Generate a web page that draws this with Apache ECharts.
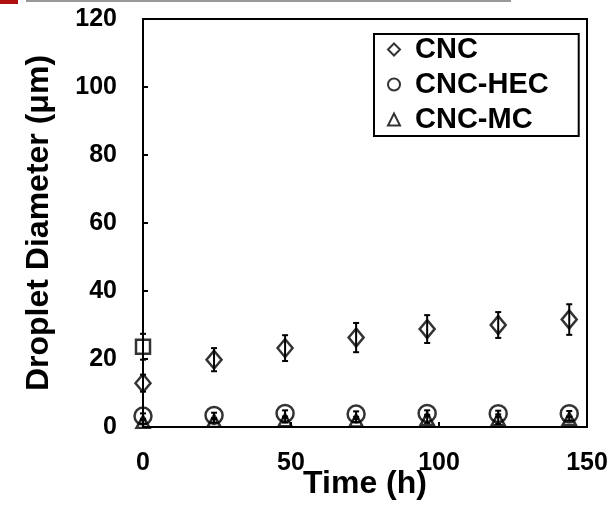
<!DOCTYPE html>
<html>
<head>
<meta charset="utf-8">
<script src="https://cdn.jsdelivr.net/npm/echarts@6/dist/echarts.min.js"></script>
<style>
    html, body { margin: 0; padding: 0; background: #fff; }
    #chart { width: 612px; height: 507px; }
</style>
</head>
<body>
<div id="chart"></div>
<script>
    // time points (h)
    const times = [0, 24, 48, 72, 96, 120, 144];
    // CNC
    const cncMean = [12.9, 19.8, 23.2, 26.3, 28.8, 30.0, 31.6];
    const cncErr = [2.5, 3.4, 3.8, 4.3, 4.1, 3.8, 4.5];
    // CNC-HEC
    const hecMean = [3.2, 3.4, 4.0, 3.8, 4.0, 3.9, 3.9];
    const hecErr = [0.8, 0.8, 0.9, 0.8, 0.9, 0.9, 0.8];
    // CNC-MC
    const mcMean = [1.5, 1.8, 2.0, 1.9, 2.4, 2.3, 2.4];
    const mcErr = [0.5, 0.5, 0.7, 0.5, 1.2, 1.4, 0.5];
    // extra point at t=0 (square, not in legend)
    const sqTime = [0];
    const sqMean = [23.6];
    const sqErr = [3.8];

    const yTicks = [0, 20, 40, 60, 80, 100, 120];
    const xTicks = [0, 50, 100, 150];

    const chart = echarts.init(document.getElementById("chart"));
    const font = "Arial, 'Liberation Sans', sans-serif";

    function pairs(xs, ys) {
        return xs.map((x, i) => [x, ys[i]]);
    }
    function errData(xs, ys, es) {
        return xs.map((x, i) => [x, ys[i] - es[i], ys[i] + es[i]]);
    }
    function errSeries(data) {
        return {
            type: "custom",
            data: data,
            silent: true,
            z: 1,
            renderItem: function (params, api) {
                const lo = api.coord([api.value(0), api.value(1)]);
                const hi = api.coord([api.value(0), api.value(2)]);
                const w = 3;
                const st = { stroke: "#000", lineWidth: 2 };
                return {
                    type: "group",
                    children: [
                        { type: "line", shape: { x1: lo[0], y1: lo[1], x2: hi[0], y2: hi[1] }, style: st },
                        { type: "line", shape: { x1: lo[0] - w, y1: lo[1], x2: lo[0] + w, y2: lo[1] }, style: st },
                        { type: "line", shape: { x1: hi[0] - w, y1: hi[1], x2: hi[0] + w, y2: hi[1] }, style: st }
                    ]
                };
            }
        };
    }
    const markerStyle = { color: "transparent", borderColor: "#000", borderWidth: 2.5 };

    const option = {
        animation: false,
        // remnant of the neighbouring panel at the top edge
        graphic: [
            { type: "rect", left: 0, top: 0, shape: { width: 18, height: 4 }, style: { fill: "#b01010" } },
            { type: "rect", left: 26, top: 0, shape: { width: 485, height: 2 }, style: { fill: "#999" } }
        ],
        grid: {
            left: 143, right: 25, top: 19, bottom: 80,
            outerBoundsMode: "none",
            show: true, borderColor: "#000", borderWidth: 2
        },
        legend: {
            left: 374,
            top: 34,
            orient: "vertical",
            data: ["CNC", "CNC-HEC", "CNC-MC"],
            borderColor: "#000",
            borderWidth: 2,
            padding: [1, 30, 2, 13],
            itemGap: 6,
            itemWidth: 12,
            itemHeight: 12,
            textStyle: { fontFamily: font, fontWeight: "bold", fontSize: 29, color: "#000", padding: [0, 0, 0, 10] },
            backgroundColor: "#fff"
        },
        xAxis: {
            type: "value",
            min: 0,
            max: 150,
            interval: 50,
            name: "Time (h)",
            nameLocation: "middle",
            nameGap: 41,
            nameMoveOverlap: false,
            nameTextStyle: { fontFamily: font, fontWeight: "bold", fontSize: 32, color: "#000" },
            axisLine: { onZero: false, lineStyle: { color: "#000", width: 2 } },
            axisTick: { inside: true, length: 5, lineStyle: { color: "#000", width: 2 } },
            axisLabel: {
                fontFamily: font, fontWeight: "bold", fontSize: 25, color: "#000", margin: 24,
                formatter: v => xTicks.includes(v) ? String(v) : ""
            },
            splitLine: { show: false }
        },
        yAxis: {
            type: "value",
            min: 0,
            max: 120,
            interval: 20,
            name: "Droplet Diameter (μm)",
            nameLocation: "middle",
            nameGap: 88,
            nameRotate: 90,
            nameTextStyle: { fontFamily: font, fontWeight: "bold", fontSize: 32, color: "#000" },
            axisLine: { lineStyle: { color: "#000", width: 2 } },
            axisTick: { inside: true, length: 5, lineStyle: { color: "#000", width: 2 } },
            axisLabel: {
                fontFamily: font, fontWeight: "bold", fontSize: 25, color: "#000", margin: 26,
                formatter: v => yTicks.includes(v) ? String(v) : ""
            },
            splitLine: { show: false }
        },
        series: [
            errSeries(errData(times, cncMean, cncErr)),
            errSeries(errData(times, hecMean, hecErr)),
            errSeries(errData(times, mcMean, mcErr)),
            errSeries(errData(sqTime, sqMean, sqErr)),
            {
                name: "CNC", type: "scatter", symbol: "diamond", symbolSize: [15, 18],
                itemStyle: markerStyle, data: pairs(times, cncMean), z: 3
            },
            {
                name: "CNC-HEC", type: "scatter", symbol: "circle", symbolSize: 17,
                itemStyle: markerStyle, data: pairs(times, hecMean), z: 3
            },
            {
                name: "CNC-MC", type: "scatter", symbol: "triangle", symbolSize: [13, 12],
                itemStyle: markerStyle, data: pairs(times, mcMean), z: 3
            },
            {
                name: "sq", type: "scatter", symbol: "rect", symbolSize: 14,
                itemStyle: markerStyle, data: pairs(sqTime, sqMean), z: 3
            }
        ]
    };
    chart.setOption(option);
</script>
</body>
</html>
